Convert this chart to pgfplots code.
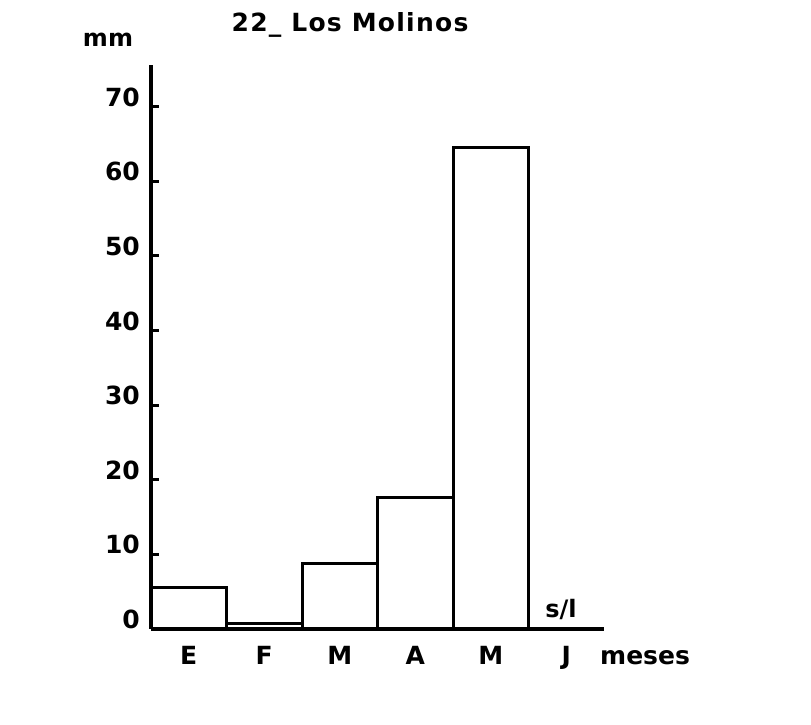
\documentclass[border=0pt]{standalone}
\usepackage{fontspec}
\setmainfont{DejaVu Sans}
\usepackage{pgfplots}
\pgfplotsset{compat=1.18}
\begin{document}
\begin{tikzpicture}
\useasboundingbox (0,0) rectangle (811pt,725pt);
\begin{axis}[
  at={(151pt,96pt)}, anchor=south west,
  scale only axis, width=453pt, height=564pt,
  xmin=0, xmax=6, ymin=0, ymax=75.6,
  enlargelimits=false,
  axis lines=left, axis line style={-, line width=3.4pt},
  axis on top,
  ytick={0,10,20,30,40,50,60,70},
  xtick={0.5,1.5,2.5,3.5,4.5,5.5},
  xticklabels={E,F,M,A,M,J},
  tick align=inside, major tick length=8pt,
  ytick style={line width=3pt, black},
  xtick style={draw=none},
  tick label style={font=\bfseries\fontsize{25}{30}\selectfont, /pgf/number format/assume math mode=true},
  yticklabel style={anchor=south east, inner sep=0pt, xshift=-11pt},
  xticklabel style={anchor=base, inner sep=0pt, yshift=-36pt},
]
\addplot[ybar, bar width=1, bar shift=0, fill=white, draw=black, line width=3pt]
  coordinates {(0.5,5.6) (1.5,0.7) (2.5,8.8) (3.5,17.6) (4.5,64.5)};
\end{axis}
\node[anchor=base, font=\bfseries\fontsize{25}{30}\selectfont\addfontfeature{LetterSpace=5}] at (350pt,693pt) {22\_ Los\hspace{10pt}Molinos};
\node[anchor=base, font=\bfseries\fontsize{24}{30}\selectfont] at (108pt,678pt) {mm};
\node[anchor=base west, inner sep=0pt, font=\bfseries\fontsize{25}{30}\selectfont] at (600pt,60pt) {meses};
\node[anchor=base, inner sep=0pt, font=\bfseries\fontsize{24}{30}\selectfont] at (561pt,107pt) {s/l};
\end{tikzpicture}
\end{document}
